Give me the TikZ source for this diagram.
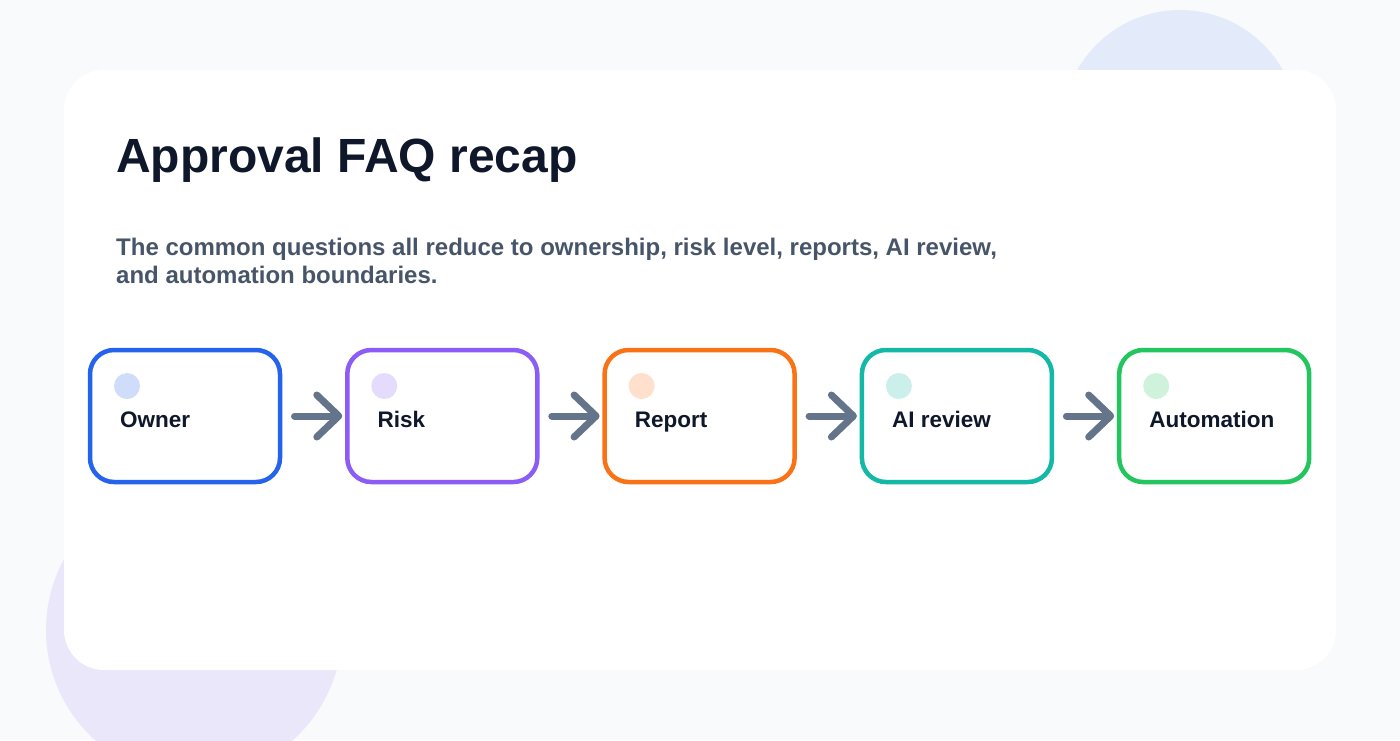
\documentclass[tikz,border=0pt]{standalone}
\usepackage{fontspec}
\setmainfont{Liberation Sans}
\usetikzlibrary{arrows.meta}
\definecolor{bg}{HTML}{F8FAFC}
\definecolor{blobblue}{HTML}{E3EAFA}
\definecolor{blobpurple}{HTML}{EAE7FA}
\definecolor{ink}{HTML}{0F172A}
\definecolor{subink}{HTML}{475569}
\definecolor{arrowc}{HTML}{64748B}
\definecolor{cblue}{HTML}{2563EB}
\definecolor{cpurple}{HTML}{8B5CF6}
\definecolor{corange}{HTML}{F97316}
\definecolor{cteal}{HTML}{14B8A6}
\definecolor{cgreen}{HTML}{22C55E}
\tikzset{
  stepbox/.style={draw=#1, line width=4.5pt, rounded corners=24pt, minimum width=190pt, minimum height=132pt, outer sep=0pt, inner sep=0pt, fill=white},
  dotfill/.style={fill=#1!22!white},
  lbl/.style={text=ink, font=\fontsize{22.5}{26}\selectfont\bfseries, inner sep=0pt, anchor=base west},
  flow/.style={draw=arrowc, line width=7pt, line cap=round, shorten <=14.5pt, shorten >=5pt,
    -{Straight Barb[length=22pt, width=42pt, round]}},
}
\begin{document}
\begin{tikzpicture}[x=1pt,y=-1pt]
\useasboundingbox (0,0) rectangle (1400,740);
\fill[bg] (0,0) rectangle (1400,740);
\fill[blobblue] (1180,128) circle (118);
\fill[blobpurple] (194,630) circle (148);
\fill[white, rounded corners=40pt] (64,70) rectangle (1336,670);

\node[text=ink, font=\fontsize{48}{56}\selectfont\bfseries, inner sep=0pt, anchor=base west] (title) at (116,172) {Approval FAQ recap};
\node[text=subink, font=\fontsize{24}{28}\selectfont\bfseries, inner sep=0pt, anchor=base west, align=left] (sub) at (116,283)
  {The common questions all reduce to ownership, risk level, reports, AI review,\\and automation boundaries.};

\foreach \i/\c/\t in {1/cblue/Owner, 2/cpurple/Risk, 3/corange/Report, 4/cteal/AI review, 5/cgreen/Automation}{
  \node[stepbox=\c] (b\i) at ({185+257.3*(\i-1)},416) {};
  \fill[dotfill=\c] ([shift={(37,36)}]b\i.north west) circle (13);
  \node[lbl] (t\i) at ([shift={(30,77)}]b\i.north west) {\t};
}
\foreach \i/\j in {1/2,2/3,3/4,4/5}{
  \draw[flow] (b\i) -- (b\j);
}
\end{tikzpicture}
\end{document}
